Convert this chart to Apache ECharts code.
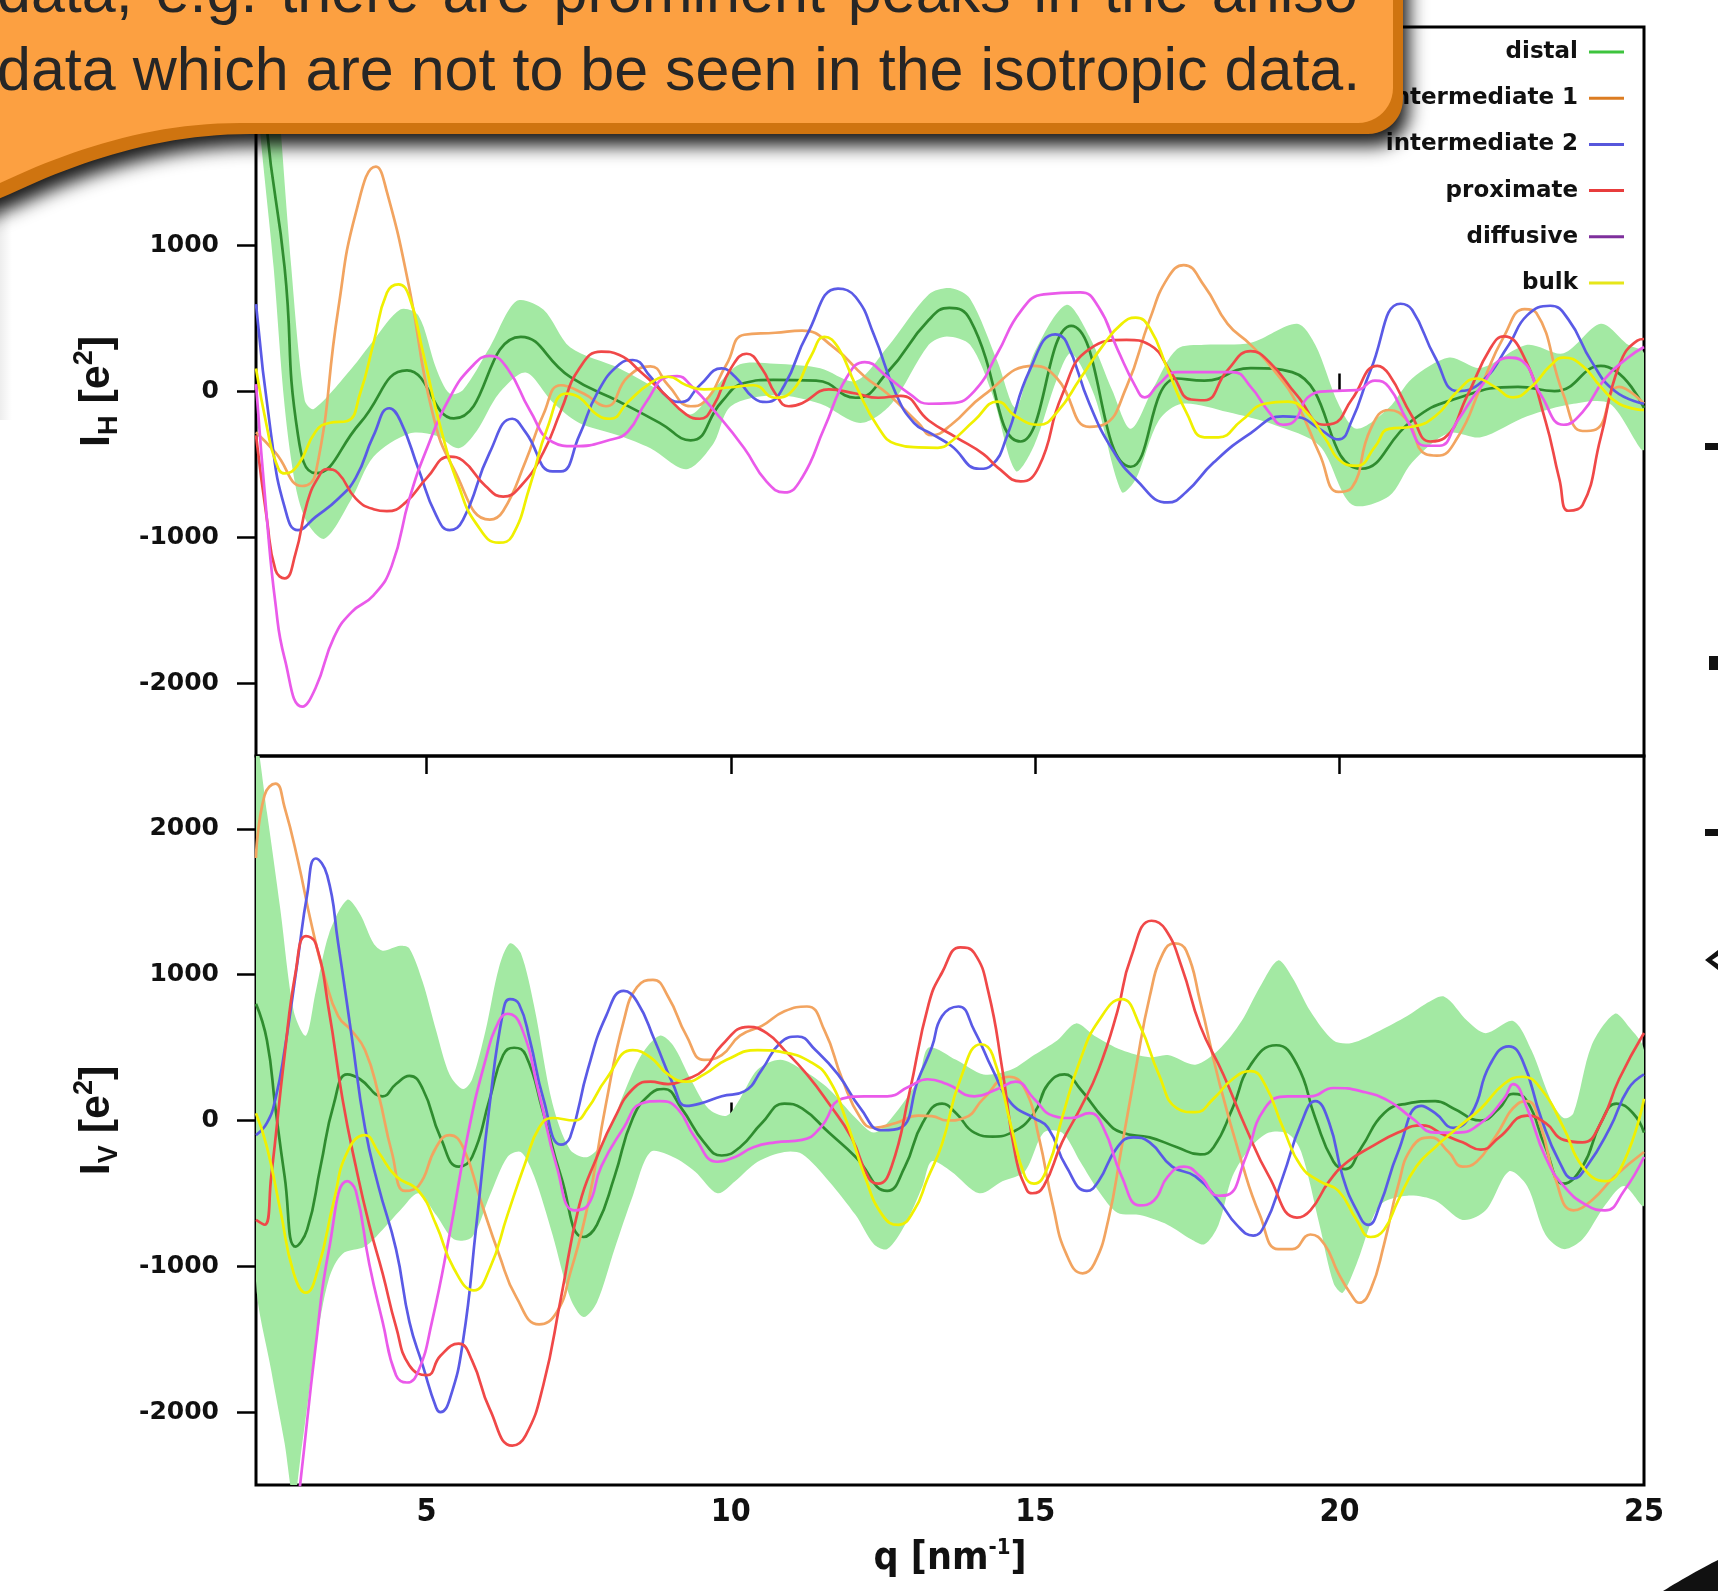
<!DOCTYPE html>
<html><head><meta charset="utf-8">
<script src="https://cdn.jsdelivr.net/npm/echarts@6/dist/echarts.min.js"></script>
<style>html,body{margin:0;padding:0;background:#fff}#c{width:1718px;height:1591px}</style>
</head><body><div id="c"></div>
<script>
// ---------- tick values ----------
const qTicks = [5, 10, 15, 20];
const qLabels = [5, 10, 15, 20, 25];
const yTicks = [-2000, -1000, 0, 1000, 2000];

// ---------- legend ----------
const seriesNames = ['distal', 'intermediate 1', 'intermediate 2', 'proximate', 'diffusive', 'bulk'];
const legendColors = ['#3ec43e', '#dc7c22', '#5757dc', '#e83c3c', '#7e2f9c', '#e6e61a'];
const lineColors = ['#2f8c2f', '#f2a460', '#5a5ae6', '#f04848', '#ea5aea', '#f0f000'];
const bandColor = '#a3e9a3';

// ---------- top panel I_H : [q, value] ----------
const H_distal = [[2.2,3000],[2.38,1800],[2.67,850],[2.89,-300],[3.18,-560],[3.91,-216],[4.68,145],[5.45,-185],[6.55,375],[7.36,100],[8.17,-70],[8.83,-215],[9.34,-335],[9.85,-70],[10.22,58],[10.7,80],[11.4,75],[12.05,-43],[12.57,130],[13.25,490],[13.59,573],[13.93,493],[14.76,-343],[15.59,450],[16.57,-516],[17.33,89],[17.78,75],[18.54,161],[19.22,133],[20.36,-530],[21.19,-199],[21.87,-55],[22.93,32],[23.53,3],[24.29,176],[25,-112]];
const H_distalUp = [[2.2,4000],[2.5,2400],[2.78,850],[3.0,-60],[3.15,-120],[3.77,158],[4.13,350],[4.57,562],[4.87,520],[5.16,158],[5.38,-14],[5.6,10],[6.04,303],[6.48,620],[6.92,562],[7.36,303],[8.17,158],[8.9,-14],[9.34,-158],[9.78,43],[10.15,187],[10.73,190],[11.47,160],[12.05,72],[12.57,303],[13.25,666],[13.62,709],[13.93,637],[14.38,205],[14.68,-112],[14.98,262],[15.51,594],[15.89,378],[16.27,3],[16.57,-256],[16.95,32],[17.33,291],[17.78,320],[18.54,334],[19.3,464],[19.6,320],[19.98,-84],[20.28,-256],[20.81,-112],[21.19,89],[21.8,233],[22.32,161],[23.08,320],[23.68,262],[24.29,464],[24.74,320],[25,262]];
const H_distalLo = [[2.2,2200],[2.49,850],[2.67,-100],[2.85,-650],[3.04,-900],[3.33,-1009],[3.77,-735],[4.13,-447],[4.72,-288],[5.16,-303],[5.53,-389],[5.82,-274],[6.19,-14],[6.63,130],[7.07,-72],[7.51,-216],[8.17,-303],[8.68,-389],[9.27,-533],[9.71,-360],[10.0,-101],[10.73,-26],[11.47,-84],[12.13,-216],[12.64,-84],[13.25,320],[13.55,378],[13.93,320],[14.3,-26],[14.68,-545],[14.98,-372],[15.36,89],[15.59,262],[15.97,-26],[16.42,-689],[16.65,-602],[17.03,-199],[17.41,-84],[18.16,-141],[18.92,-228],[19.67,-372],[20.2,-775],[20.81,-718],[21.19,-487],[21.79,-285],[22.32,-314],[23.08,-170],[23.84,-84],[24.44,-84],[25,-400]];
const H_int1 = [[2.2,-280],[2.52,-420],[2.96,-648],[3.18,-560],[3.55,562],[3.84,1225],[4.17,1542],[4.35,1369],[4.72,706],[5.09,-130],[5.45,-533],[6.04,-879],[6.26,-820],[6.63,-476],[6.92,-158],[7.21,43],[7.58,-14],[7.95,-101],[8.31,101],[8.68,173],[8.97,43],[9.34,-101],[9.56,-72],[9.93,187],[10.22,389],[10.73,403],[11.17,418],[11.69,303],[12.2,101],[12.57,-14],[13.08,-216],[13.3,-300],[13.62,-228],[14.15,-26],[14.98,176],[15.36,89],[15.89,-242],[16.12,-228],[16.5,32],[16.88,493],[17.18,781],[17.44,867],[17.78,723],[18.16,464],[18.54,320],[18.92,147],[19.3,-84],[19.67,-429],[19.98,-689],[20.2,-660],[20.51,-256],[20.81,-127],[21.11,-199],[21.41,-429],[21.6,-440],[21.94,-314],[22.32,32],[22.7,378],[23.04,565],[23.23,540],[23.68,-26],[23.99,-271],[24.21,-260],[24.59,32],[25,-84]];
const H_int2 = [[2.2,600],[2.45,-303],[2.67,-793],[2.89,-951],[3.18,-860],[3.55,-735],[3.84,-591],[4.13,-303],[4.39,-115],[4.57,-200],[4.87,-533],[5.16,-850],[5.38,-951],[5.6,-880],[6.04,-418],[6.41,-187],[6.63,-280],[7.07,-548],[7.21,-548],[7.51,-303],[7.8,-14],[8.17,187],[8.39,216],[8.68,101],[8.97,-43],[9.19,-72],[9.49,43],[9.85,158],[10.07,101],[10.37,-43],[10.59,-72],[10.88,43],[11.25,389],[11.76,706],[12.05,648],[12.35,389],[12.71,-14],[13.01,-216],[13.3,-290],[13.62,-372],[14.08,-530],[14.3,-500],[14.53,-314],[14.91,147],[15.33,392],[15.51,340],[15.89,-84],[16.27,-400],[16.65,-602],[17.18,-761],[17.48,-689],[17.93,-487],[18.54,-285],[19.07,-170],[19.3,-175],[19.67,-256],[19.98,-329],[20.2,-199],[20.51,147],[21.0,602],[21.19,560],[21.57,233],[21.94,3],[22.32,61],[22.78,320],[23.08,522],[23.46,588],[23.76,493],[24.14,205],[24.52,3],[25,-84]];
const H_prox = [[2.2,-300],[2.38,-879],[2.52,-1225],[2.67,-1282],[2.85,-1110],[3.04,-764],[3.22,-591],[3.37,-533],[3.55,-560],[3.84,-735],[4.13,-807],[4.35,-821],[4.65,-764],[5.01,-591],[5.38,-447],[5.6,-475],[5.97,-648],[6.26,-721],[6.55,-648],[6.92,-418],[7.21,-130],[7.51,158],[7.87,274],[8.17,250],[8.53,130],[8.9,-14],[9.27,-158],[9.49,-187],[9.71,-101],[10.0,158],[10.26,259],[10.51,158],[10.73,-14],[10.95,-101],[11.17,-80],[11.61,14],[12.05,-14],[12.42,-43],[12.79,-30],[13.25,-199],[13.7,-314],[14.15,-429],[14.38,-520],[14.76,-617],[15.06,-516],[15.44,-26],[15.89,291],[16.5,354],[16.88,320],[17.25,118],[17.56,-55],[17.78,-60],[18.16,147],[18.54,277],[18.84,205],[19.3,-26],[19.75,-228],[19.9,-220],[20.2,-55],[20.62,176],[20.81,118],[21.19,-170],[21.49,-343],[21.72,-320],[22.1,-26],[22.47,291],[22.7,378],[23.0,262],[23.38,-199],[23.61,-602],[23.76,-818],[23.99,-780],[24.29,-314],[24.59,176],[24.89,349],[25,360]];
const H_diff = [[2.2,50],[2.38,-879],[2.52,-1455],[2.67,-1830],[2.96,-2162],[3.18,-2032],[3.48,-1686],[3.77,-1513],[4.13,-1398],[4.43,-1196],[4.72,-735],[5.01,-389],[5.38,-43],[5.75,173],[6.04,245],[6.33,158],[6.7,-130],[7.07,-346],[7.43,-375],[8.02,-331],[8.31,-274],[8.61,-72],[8.97,101],[9.12,105],[9.34,43],[9.78,-158],[10.22,-389],[10.59,-620],[10.88,-692],[11.17,-591],[11.54,-245],[11.91,101],[12.2,202],[12.57,101],[12.93,-14],[13.25,-84],[13.62,-80],[14.0,3],[14.38,262],[14.76,550],[15.14,666],[15.74,680],[16.04,579],[16.35,291],[16.65,32],[16.8,-40],[17.03,50],[17.33,133],[18.24,133],[18.54,32],[18.84,-141],[19.07,-228],[19.22,-215],[19.52,-26],[19.83,3],[20.28,9],[20.58,75],[20.81,30],[21.11,-199],[21.41,-372],[21.64,-372],[21.94,-199],[22.32,32],[22.78,233],[23.0,210],[23.31,-26],[23.68,-228],[23.99,-141],[24.36,89],[24.74,233],[25,305]];
const H_bulk = [[2.2,158],[2.38,-245],[2.52,-476],[2.67,-562],[2.89,-504],[3.18,-274],[3.4,-216],[3.7,-202],[3.91,-14],[4.13,331],[4.35,677],[4.54,735],[4.72,648],[4.94,274],[5.23,-245],[5.53,-648],[5.82,-908],[6.19,-1037],[6.41,-990],[6.7,-648],[6.99,-245],[7.29,-14],[7.51,-40],[7.8,-158],[8.02,-187],[8.31,-72],[8.68,58],[8.97,101],[9.27,43],[9.56,14],[10.0,29],[10.37,43],[10.73,-43],[11.03,14],[11.32,245],[11.54,375],[11.76,303],[12.05,43],[12.42,-245],[12.71,-360],[13.08,-383],[13.4,-386],[13.62,-343],[14.0,-199],[14.38,-69],[14.68,-170],[15.06,-228],[15.36,-141],[15.74,89],[16.12,320],[16.42,464],[16.65,507],[16.88,435],[17.18,147],[17.48,-141],[17.78,-314],[18.01,-314],[18.39,-199],[18.77,-84],[19.15,-69],[19.45,-141],[19.75,-314],[20.05,-487],[20.28,-510],[20.58,-380],[20.81,-256],[21.19,-242],[21.57,-170],[21.94,3],[22.25,89],[22.55,32],[22.85,-40],[23.15,32],[23.46,176],[23.68,233],[23.99,176],[24.29,32],[24.59,-84],[25,-127]];

// ---------- bottom panel I_V : [q, value] ----------
const V_distal = [[2.2,800],[2.38,549],[2.52,83],[2.67,-383],[2.85,-865],[3.04,-749],[3.26,-316],[3.48,116],[3.7,316],[3.91,283],[4.28,166],[4.5,250],[4.72,306],[4.94,216],[5.23,-116],[5.53,-316],[5.75,-250],[6.04,150],[6.26,449],[6.44,499],[6.63,449],[6.92,50],[7.21,-383],[7.58,-799],[7.8,-716],[8.09,-383],[8.39,17],[8.68,183],[8.9,216],[9.19,83],[9.56,-150],[9.85,-240],[10.15,-183],[10.51,-17],[10.88,116],[11.17,83],[11.61,-83],[12.05,-250],[12.57,-483],[12.86,-316],[13.15,-17],[13.47,116],[13.7,50],[14.0,-83],[14.3,-110],[14.61,-83],[14.98,50],[15.21,250],[15.48,316],[15.74,216],[16.12,17],[16.42,-83],[16.88,-116],[17.33,-183],[17.71,-233],[17.93,-183],[18.24,83],[18.54,383],[18.96,516],[19.3,383],[19.6,17],[19.9,-283],[20.09,-333],[20.36,-183],[20.73,50],[21.11,116],[21.57,133],[21.87,83],[22.32,0],[22.62,83],[22.85,183],[23.08,133],[23.38,-183],[23.68,-433],[23.99,-316],[24.29,-17],[24.55,116],[24.82,50],[25,-83]];
const V_distalUp = [[2.2,2600],[2.38,2113],[2.6,1448],[2.82,749],[3.02,582],[3.18,882],[3.4,1281],[3.7,1514],[3.91,1414],[4.13,1215],[4.28,1165],[4.57,1198],[4.72,1180],[4.94,948],[5.16,616],[5.38,316],[5.6,216],[5.75,283],[5.97,616],[6.19,1048],[6.37,1215],[6.55,1148],[6.77,782],[7.07,116],[7.36,-200],[7.65,-250],[7.95,-116],[8.24,183],[8.53,449],[8.83,582],[9.05,516],[9.34,283],[9.63,83],[9.93,33],[10.15,150],[10.44,349],[10.81,416],[11.17,349],[11.61,216],[12.05,17],[12.35,-83],[12.64,17],[13.08,283],[13.25,500],[13.7,416],[14.15,316],[14.61,349],[14.98,449],[15.36,549],[15.67,666],[15.97,582],[16.42,483],[16.88,433],[17.18,449],[17.63,383],[18.01,483],[18.39,682],[18.69,915],[18.99,1098],[19.22,982],[19.52,749],[19.9,549],[20.2,532],[20.66,616],[21.11,716],[21.41,799],[21.72,849],[22.1,682],[22.4,599],[22.85,682],[23.15,483],[23.46,150],[23.68,17],[23.84,50],[24.14,516],[24.52,732],[24.74,649],[25,483]];
const V_distalLo = [[2.2,-1100],[2.45,-1714],[2.67,-2213],[2.82,-2600],[2.96,-2213],[3.18,-1548],[3.4,-1082],[3.62,-915],[3.99,-865],[4.28,-749],[4.57,-616],[4.87,-499],[5.16,-649],[5.45,-815],[5.75,-799],[6.04,-516],[6.33,-250],[6.55,-216],[6.77,-383],[7.07,-782],[7.36,-1215],[7.58,-1348],[7.8,-1248],[8.09,-882],[8.39,-516],[8.68,-216],[9.05,-250],[9.41,-349],[9.78,-499],[10.07,-416],[10.44,-283],[10.88,-216],[11.17,-230],[11.61,-416],[12.05,-649],[12.35,-849],[12.57,-882],[12.86,-716],[13.15,-449],[13.3,-280],[13.62,-349],[14.08,-499],[14.46,-416],[14.83,-349],[15.14,-83],[15.44,-83],[15.74,-283],[16.04,-483],[16.35,-632],[16.72,-649],[17.18,-716],[17.56,-815],[17.78,-849],[18.01,-716],[18.24,-383],[18.54,-183],[18.84,-83],[19.15,-90],[19.37,-216],[19.67,-716],[19.9,-1115],[20.05,-1181],[20.28,-982],[20.66,-582],[21.11,-516],[21.57,-549],[22.02,-682],[22.4,-616],[22.78,-349],[23.08,-449],[23.38,-782],[23.68,-882],[23.99,-815],[24.36,-582],[24.67,-449],[25,-582]];
const V_int1 = [[2.2,1800],[2.34,2230],[2.52,2310],[2.67,2147],[2.89,1780],[3.11,1348],[3.33,982],[3.55,716],[3.77,616],[3.99,483],[4.21,183],[4.43,-216],[4.65,-483],[4.87,-449],[5.16,-183],[5.38,-100],[5.6,-183],[5.89,-549],[6.19,-915],[6.48,-1215],[6.85,-1398],[7.14,-1315],[7.36,-1048],[7.65,-582],[7.95,116],[8.24,682],[8.46,915],[8.72,965],[8.97,849],[9.27,582],[9.56,416],[9.85,449],[10.15,582],[10.51,649],[10.88,749],[11.25,782],[11.54,616],[11.83,283],[12.13,17],[12.35,-50],[12.71,-17],[13.08,33],[13.3,30],[13.55,0],[13.85,20],[14.15,150],[14.57,300],[14.83,216],[15.06,-116],[15.29,-582],[15.51,-915],[15.78,-1048],[15.97,-982],[16.2,-682],[16.42,-183],[16.65,349],[16.88,849],[17.1,1148],[17.29,1215],[17.48,1165],[17.71,815],[18.01,283],[18.39,-283],[18.69,-649],[18.99,-882],[19.22,-882],[19.52,-782],[19.75,-849],[19.98,-1048],[20.2,-1200],[20.32,-1250],[20.51,-1160],[20.73,-849],[20.96,-449],[21.19,-183],[21.49,-116],[21.79,-216],[22.02,-316],[22.25,-283],[22.55,-116],[22.93,116],[23.08,133],[23.31,-50],[23.53,-383],[23.84,-616],[24.14,-549],[24.52,-383],[25,-216]];
const V_int2 = [[2.2,-100],[2.38,-17],[2.52,150],[2.67,483],[2.89,1115],[3.04,1548],[3.18,1797],[3.37,1681],[3.55,1215],[3.77,582],[3.99,-50],[4.21,-449],[4.5,-882],[4.72,-1381],[4.94,-1681],[5.16,-1970],[5.23,-2000],[5.38,-1914],[5.6,-1514],[5.82,-716],[6.04,116],[6.26,749],[6.37,832],[6.52,799],[6.7,549],[6.92,150],[7.21,-166],[7.36,-116],[7.65,349],[7.95,716],[8.24,889],[8.46,815],[8.75,549],[9.05,250],[9.27,100],[9.49,116],[9.85,166],[10.22,200],[10.51,349],[10.81,532],[11.1,576],[11.39,483],[11.76,316],[12.13,83],[12.49,-67],[12.79,-50],[13.08,283],[13.3,500],[13.47,716],[13.74,782],[14.0,616],[14.3,349],[14.61,116],[14.98,17],[15.21,-50],[15.51,-316],[15.85,-483],[16.04,-416],[16.35,-183],[16.61,-116],[16.88,-150],[17.25,-316],[17.63,-383],[18.01,-549],[18.31,-716],[18.58,-789],[18.77,-716],[19.07,-383],[19.37,-17],[19.6,133],[19.83,-17],[20.05,-383],[20.28,-616],[20.47,-716],[20.66,-582],[20.96,-216],[21.34,100],[21.57,50],[21.87,-50],[22.17,50],[22.47,383],[22.78,509],[23.0,416],[23.31,17],[23.61,-283],[23.84,-399],[24.06,-316],[24.44,-50],[24.74,216],[25,316]];
const V_prox = [[2.2,-682],[2.34,-715],[2.45,-383],[2.67,449],[2.85,1015],[3.02,1265],[3.18,1215],[3.4,749],[3.62,150],[3.84,-316],[4.06,-716],[4.28,-1048],[4.5,-1414],[4.72,-1681],[5.01,-1747],[5.23,-1614],[5.53,-1531],[5.75,-1647],[6.04,-1980],[6.41,-2230],[6.63,-2160],[6.92,-1814],[7.21,-1215],[7.51,-582],[7.8,-250],[8.09,17],[8.39,216],[8.68,266],[8.97,250],[9.27,283],[9.56,349],[9.85,516],[10.29,642],[10.59,599],[10.88,483],[11.25,316],[11.61,116],[11.98,-116],[12.27,-399],[12.42,-433],[12.64,-316],[12.93,183],[13.25,800],[13.47,1015],[13.77,1188],[14.0,1148],[14.23,882],[14.46,349],[14.68,-250],[14.87,-483],[14.95,-499],[15.14,-449],[15.44,-150],[15.74,83],[16.04,349],[16.35,749],[16.57,1115],[16.91,1370],[17.14,1310],[17.41,1048],[17.71,649],[18.09,316],[18.46,-50],[18.84,-383],[19.3,-666],[19.52,-616],[19.83,-416],[20.13,-283],[20.51,-183],[20.96,-83],[21.34,-33],[21.72,-100],[22.02,-150],[22.32,-200],[22.62,-116],[23.08,33],[23.38,-17],[23.68,-133],[23.99,-150],[24.29,-17],[24.59,283],[25,600]];
const V_diff = [[2.2,-4000],[2.7,-3300],[2.93,-2479],[3.18,-1548],[3.4,-882],[3.7,-416],[3.84,-483],[4.06,-982],[4.28,-1381],[4.5,-1747],[4.68,-1797],[4.87,-1714],[5.09,-1381],[5.38,-782],[5.67,-116],[5.97,416],[6.19,682],[6.33,732],[6.55,649],[6.85,183],[7.14,-316],[7.43,-616],[7.65,-582],[7.87,-316],[8.24,-50],[8.53,116],[8.83,133],[9.12,83],[9.41,-116],[9.78,-283],[10.07,-250],[10.37,-183],[10.73,-150],[11.17,-133],[11.47,-50],[11.83,150],[12.2,166],[12.57,166],[12.93,233],[13.23,283],[13.55,250],[14.0,166],[14.38,216],[14.68,266],[14.98,150],[15.29,33],[15.59,17],[15.89,50],[16.12,-50],[16.42,-383],[16.72,-582],[16.95,-549],[17.18,-383],[17.44,-316],[17.71,-383],[18.01,-516],[18.16,-510],[18.46,-250],[18.77,83],[19.15,166],[19.52,166],[19.9,223],[20.36,200],[20.81,133],[21.19,17],[21.57,-83],[21.94,-83],[22.32,-17],[22.7,150],[22.85,250],[23.08,83],[23.38,-250],[23.68,-449],[24.06,-582],[24.36,-616],[24.67,-483],[25,-250]];
const V_bulk = [[2.2,50],[2.38,-183],[2.6,-616],[2.82,-1048],[3.02,-1181],[3.22,-1015],[3.48,-549],[3.7,-216],[3.99,-100],[4.21,-216],[4.5,-383],[4.87,-483],[5.16,-716],[5.45,-1015],[5.78,-1165],[6.04,-1015],[6.33,-649],[6.63,-283],[6.85,-50],[7.07,17],[7.43,0],[7.65,83],[7.95,283],[8.39,483],[8.68,433],[8.97,316],[9.27,266],[9.56,316],[9.93,416],[10.44,483],[10.88,466],[11.32,399],[11.61,283],[11.91,-17],[12.2,-383],[12.49,-649],[12.75,-716],[13.01,-616],[13.23,-400],[13.47,-160],[13.77,283],[14.11,523],[14.3,449],[14.61,-50],[14.83,-383],[14.98,-433],[15.21,-316],[15.44,17],[15.74,416],[16.04,682],[16.42,832],[16.72,649],[17.03,316],[17.33,83],[17.63,57],[17.93,150],[18.24,283],[18.54,339],[18.77,250],[19.07,-50],[19.37,-316],[19.67,-416],[19.98,-483],[20.28,-682],[20.51,-799],[20.73,-749],[20.96,-549],[21.26,-316],[21.57,-183],[21.94,-50],[22.32,83],[22.7,250],[23.0,300],[23.31,216],[23.68,-50],[23.99,-316],[24.36,-416],[24.67,-283],[25,150]];

// ---------- callout text ----------
const calloutLine1 = ['data,', 'e.g.', 'there', 'are', 'prominent', 'peaks', 'in', 'the', 'aniso-'];
const calloutLine2 = 'data which are not to be seen in the isotropic data.';

// ---------- build ----------
const chart = echarts.init(document.getElementById('c'), null, {renderer: 'canvas'});
const boldSans = '"Liberation Sans", Arial, sans-serif';
const narrow = '"Liberation Sans Narrow", "DejaVu Sans Condensed", "Liberation Sans", sans-serif';
const tickStyle = {color: '#000', width: 2.5};

function lineSeries(name, data, color, idx) {
  return {type: 'line', name, data, xAxisIndex: idx === 0 ? 0 : 1, yAxisIndex: idx, smooth: 0.5,
    showSymbol: false, symbol: 'none', clip: true, silent: true, z: 3,
    lineStyle: {color, width: 2.7}, itemStyle: {color}};
}
function bandSeries(upper, lower, idx) {
  return {type: 'custom', xAxisIndex: idx === 0 ? 0 : 1, yAxisIndex: idx, clip: true, silent: true, z: 1,
    data: [upper[0]],
    renderItem(params, api) {
      const pts = upper.map(p => api.coord(p)).concat(lower.slice().reverse().map(p => api.coord(p)));
      return {type: 'polygon', shape: {points: pts, smooth: 0.3}, style: {fill: bandColor}};
    }};
}
const panels = [
  [H_distal, H_int1, H_int2, H_prox, H_diff, H_bulk, H_distalUp, H_distalLo],
  [V_distal, V_int1, V_int2, V_prox, V_diff, V_bulk, V_distalUp, V_distalLo]
];
const series = [];
panels.forEach((p, idx) => {
  series.push(bandSeries(p[6], p[7], idx));
  for (let i = 0; i < 6; i++) series.push(lineSeries(seriesNames[i], p[i], lineColors[i], idx));
});

function yAxis(gridIndex, sub) {
  return {gridIndex, type: 'value', min: -2500, max: 2500,
    axisLine: {show: false}, splitLine: {show: false},
    axisTick: {show: true, inside: false, length: 19, lineStyle: tickStyle, customValues: yTicks},
    axisLabel: {customValues: yTicks, margin: 37, fontFamily: '"DejaVu Sans", sans-serif', fontWeight: 'bold',
      fontSize: 25, color: '#111', formatter: v => String(v)},
    name: '{a|I}{s|' + sub + '}{a| [e}{p|2}{a|]}', nameLocation: 'middle', nameRotate: 90, nameGap: 133,
    nameTextStyle: {rich: {
      a: {fontFamily: boldSans, fontWeight: 'bold', fontSize: 43, lineHeight: 52, color: '#111'},
      s: {fontFamily: boldSans, fontWeight: 'bold', fontSize: 27, lineHeight: 27, verticalAlign: 'bottom', color: '#111'},
      p: {fontFamily: boldSans, fontWeight: 'bold', fontSize: 27, lineHeight: 27, verticalAlign: 'top', color: '#111'}
    }}};
}

const legends = seriesNames.map((n, i) => ({
  data: [{name: n, itemStyle: {color: legendColors[i]}}],
  orient: 'vertical', align: 'right', right: 94, top: 38 + i * 46.2, padding: 0,
  icon: 'rect', itemWidth: 35, itemHeight: 3, selectedMode: false,
  textStyle: {fontFamily: '"DejaVu Sans", sans-serif', fontWeight: 'bold', fontSize: 23, color: '#111',
    lineHeight: 28, padding: [0, 6, 0, 0]}
}));

// callout geometry (decoration)
function calloutPoints() {
  const pts = [[-40, -80], [1393, -80], [1393, 88]];
  for (let k = 1; k <= 12; k++) {
    const a = (k / 12) * Math.PI / 2;
    pts.push([1358 + 35 * Math.cos(a), 88 + 35 * Math.sin(a)]);
  }
  pts.push([240, 123]);
  const P0 = [240, 123], P1 = [150, 123], P2 = [70, 150], P3 = [0, 183];
  for (let k = 1; k <= 24; k++) {
    const t = k / 24, u = 1 - t;
    pts.push([u*u*u*P0[0] + 3*u*u*t*P1[0] + 3*u*t*t*P2[0] + t*t*t*P3[0],
              u*u*u*P0[1] + 3*u*u*t*P1[1] + 3*u*t*t*P2[1] + t*t*t*P3[1]]);
  }
  pts.push([-40, 200]);
  return pts;
}
const cPts = calloutPoints();
const textFont = '61px "Liberation Sans", Arial, sans-serif';
const ctx = document.createElement('canvas').getContext('2d');
ctx.font = textFont;
const widths = calloutLine1.map(w => ctx.measureText(w).width);
const x0 = -3, x1 = 1378;
const gap = (x1 - x0 - widths.reduce((a, b) => a + b, 0)) / (calloutLine1.length - 1);
const textEls = [];
let cx = x0;
calloutLine1.forEach((w, i) => {
  textEls.push({type: 'text', x: cx, y: -5, z: 102, style: {text: w, font: textFont, fill: '#262626',
    textAlign: 'left', textVerticalAlign: 'middle', align: 'left', verticalAlign: 'middle'}});
  cx += widths[i] + gap;
});
textEls.push({type: 'text', x: x0, y: 73, z: 102, style: {text: calloutLine2, font: textFont, fill: '#262626',
  textAlign: 'left', textVerticalAlign: 'middle', align: 'left', verticalAlign: 'middle'}});

const brPts = [];
for (let k = 0; k <= 16; k++) {
  const t = k / 16, u = 1 - t;
  brPts.push([u*u*1663 + 2*u*t*1694 + t*t*1718, u*u*1591 + 2*u*t*1572 + t*t*1560]);
}
brPts.push([1718, 1591]);

const option = {
  animation: false,
  backgroundColor: '#fff',
  grid: [
    {left: 256, top: 27, width: 1388, height: 729, show: true, borderColor: '#000', borderWidth: 3, backgroundColor: 'transparent'},
    {left: 256, top: 756, width: 1388, height: 729, show: true, borderColor: '#000', borderWidth: 3, backgroundColor: 'transparent'}
  ],
  xAxis: [
    {gridIndex: 0, type: 'value', min: 2.2, max: 25, position: 'bottom', axisLine: {show: false}, splitLine: {show: false},
      axisTick: {show: true, inside: true, length: 18, lineStyle: tickStyle, customValues: qTicks},
      axisLabel: {show: false, customValues: qTicks}},
    {gridIndex: 1, type: 'value', min: 2.2, max: 25, position: 'bottom', axisLine: {show: false}, splitLine: {show: false},
      axisTick: {show: true, inside: true, length: 18, lineStyle: tickStyle, customValues: qTicks},
      axisLabel: {show: true, customValues: qLabels, margin: 12, fontFamily: narrow, fontWeight: 'bold', fontSize: 32, color: '#111'},
      name: '{a|q [nm}{p|-1}{a|]}', nameLocation: 'middle', nameGap: 52,
      nameTextStyle: {rich: {
        a: {fontFamily: narrow, fontWeight: 'bold', fontSize: 39, lineHeight: 44, color: '#111'},
        p: {fontFamily: narrow, fontWeight: 'bold', fontSize: 22, lineHeight: 22, verticalAlign: 'top', color: '#111'}
      }}},
    {gridIndex: 1, type: 'value', min: 2.2, max: 25, position: 'top', axisLine: {show: false}, splitLine: {show: false},
      axisTick: {show: true, inside: true, length: 18, lineStyle: tickStyle, customValues: qTicks},
      axisLabel: {show: false, customValues: qTicks}}
  ],
  yAxis: [yAxis(0, 'H'), yAxis(1, 'V')],
  legend: legends,
  series,
  graphic: {elements: [
    {type: 'rect', z: 0, shape: {x: 0, y: 210, width: 12, height: 210},
      style: {fill: new echarts.graphic.LinearGradient(0, 0, 1, 0, [{offset: 0, color: 'rgba(0,0,0,0.07)'}, {offset: 1, color: 'rgba(0,0,0,0)'}])}},
    {type: 'polygon', z: 100, shape: {points: brPts}, style: {fill: '#111'}},
    {type: 'rect', z: 100, shape: {x: 1705, y: 443, width: 13, height: 7}, style: {fill: '#111'}},
    {type: 'rect', z: 100, shape: {x: 1709, y: 656, width: 9, height: 14}, style: {fill: '#111'}},
    {type: 'rect', z: 100, shape: {x: 1705, y: 829, width: 13, height: 7}, style: {fill: '#111'}},
    {type: 'polygon', z: 100, shape: {points: [[1705, 960], [1718, 950], [1718, 956], [1712, 960], [1718, 964], [1718, 970]]}, style: {fill: '#111'}},
    {type: 'polygon', z: 100, x: 10, y: 11, shape: {points: cPts},
      style: {fill: '#cf7410', shadowBlur: 18, shadowColor: 'rgba(0,0,0,0.9)', shadowOffsetX: 6, shadowOffsetY: 12}},
    {type: 'polygon', z: 101, shape: {points: cPts}, style: {fill: '#fca041'}},
    ...textEls
  ]}
};
chart.setOption(option);
</script></body></html>
